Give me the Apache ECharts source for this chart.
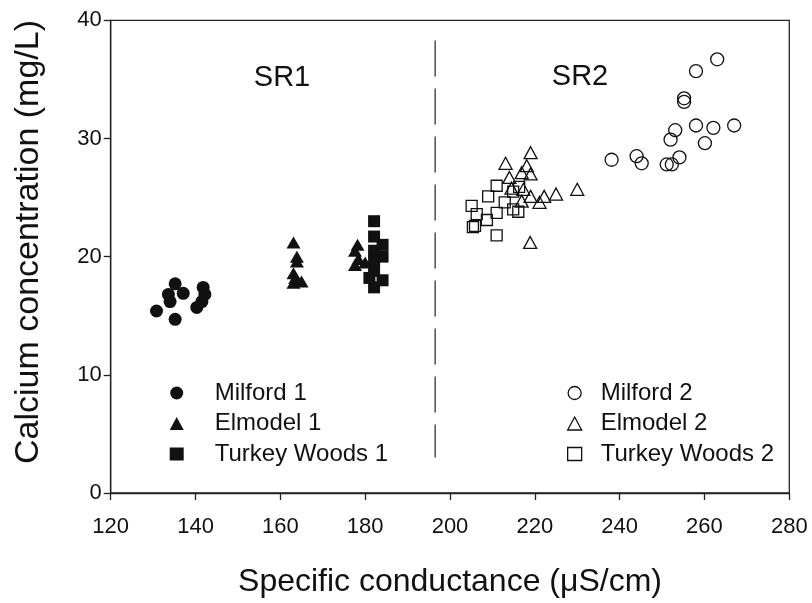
<!DOCTYPE html>
<html>
<head>
<meta charset="utf-8">
<script src="https://cdn.jsdelivr.net/npm/echarts@6/dist/echarts.min.js"></script>
<style>
  html, body { margin: 0; padding: 0; background: #fff; }
  #chart { width: 812px; height: 603px; }
</style>
</head>
<body>
<div id="chart"></div>
<script>
// Specific conductance (µS/cm) vs calcium concentration (mg/L), two sampling rounds
const milford1 = [[135.2,17.7],[137.1,16.9],[133.6,16.8],[134.0,16.2],[130.8,15.4],[135.2,14.7],[141.8,17.4],[142.2,16.8],[141.5,16.2],[140.3,15.7]];
const elmodel1 = [[163.1,21.2],[163.9,20.0],[163.9,19.6],[163.1,18.6],[163.5,18.2],[165.0,17.9],[163.1,17.8],[178.2,21.0],[177.6,20.5],[178.4,19.8],[177.6,19.3],[180.0,19.5]];
const turkeyWoods1 = [[182.1,23.0],[182.1,21.7],[184.1,21.0],[182.1,20.5],[184.1,20.0],[182.1,19.6],[182.1,18.8],[184.1,18.0],[181.0,18.2],[182.1,17.4]];
const milford2 = [[263.0,36.7],[258.0,35.7],[255.2,33.4],[255.2,33.1],[253.1,30.7],[252.0,29.9],[258.0,31.1],[262.1,30.9],[267.0,31.1],[260.1,29.6],[254.1,28.4],[238.1,28.2],[244.0,28.5],[245.2,27.9],[251.1,27.8],[252.3,27.8]];
const elmodel2 = [[219.0,28.8],[213.1,27.9],[218.1,27.7],[216.9,27.1],[219.0,27.0],[214.0,26.7],[230.0,25.7],[225.0,25.3],[222.2,25.1],[219.0,25.1],[221.1,24.6],[216.9,24.7],[218.9,21.2],[214.5,25.8],[217.3,25.7]];
const turkeyWoods2 = [[211.0,26.0],[209.0,25.1],[214.9,25.5],[212.9,24.6],[216.1,23.8],[214.9,24.0],[211.0,23.7],[205.1,24.3],[206.3,23.6],[208.7,23.1],[205.4,22.5],[205.9,22.6],[211.0,21.8],[216.3,25.9]];

// round divider (x = 196.5) and its vertical extent
const dividerLine = [[196.5, 38.3], [196.5, 3.0]];

const xTicks = [120, 140, 160, 180, 200, 220, 240, 260, 280];
const yTicks = [0, 10, 20, 30, 40];
const roundLabels = ['SR1', 'SR2'];

const INK = '#111';
const AXIS = '#222';
const FONT = '"Liberation Sans", Arial, Helvetica, sans-serif';

function filled(name, symbol, size, data) {
  return {
    name, type: 'scatter', data, symbol, symbolSize: size,
    itemStyle: { color: INK, opacity: 1 },
    emphasis: { disabled: true }, z: 3
  };
}
function hollow(name, symbol, size, data) {
  return {
    name, type: 'scatter', data, symbol, symbolSize: size,
    itemStyle: { color: 'rgba(255,255,255,0)', borderColor: INK, borderWidth: 1.3, opacity: 1 },
    emphasis: { disabled: true }, z: 3
  };
}

const legendText = { fontSize: 24, lineHeight: 24, color: INK, fontFamily: FONT };

const chart = echarts.init(document.getElementById('chart'), null, { renderer: 'canvas' });

chart.setOption({
  animation: false,
  backgroundColor: '#fff',
  textStyle: { fontFamily: FONT },
  grid: {
    left: 110.7, right: 22.7, top: 20.3, bottom: 109,
    show: true, borderColor: AXIS, borderWidth: 1.3, backgroundColor: 'transparent'
  },
  xAxis: {
    type: 'value',
    min: xTicks[0], max: xTicks[xTicks.length - 1], interval: 20,
    name: 'Specific conductance (\u03bcS/cm)',
    nameLocation: 'middle', nameGap: 73,
    nameTextStyle: { fontSize: 32, color: INK, fontFamily: FONT },
    axisLine: { show: true, onZero: false, lineStyle: { color: AXIS, width: 1.3 } },
    axisTick: { show: true, inside: false, length: 7, lineStyle: { color: AXIS, width: 1.3 } },
    axisLabel: { fontSize: 22, color: INK, margin: 23, fontFamily: FONT },
    splitLine: { show: false }
  },
  yAxis: {
    type: 'value',
    min: yTicks[0], max: yTicks[yTicks.length - 1], interval: 10,
    axisLine: { show: true, onZero: false, lineStyle: { color: AXIS, width: 1.3 } },
    axisTick: { show: true, inside: false, length: 7, lineStyle: { color: AXIS, width: 1.3 } },
    axisLabel: { fontSize: 22, color: INK, margin: 9, fontFamily: FONT },
    splitLine: { show: false }
  },
  legend: [
    {
      data: ['Milford 1', 'Elmodel 1', 'Turkey Woods 1'],
      orient: 'vertical', left: 169.7, top: 381, padding: 0,
      itemWidth: 14, itemHeight: 13, itemGap: 6.5,
      selectedMode: false,
      textStyle: Object.assign({ padding: [0, 0, 0, 26] }, legendText)
    },
    {
      data: ['Milford 2', 'Elmodel 2', 'Turkey Woods 2'],
      orient: 'vertical', left: 567, top: 381, padding: 0,
      itemWidth: 14, itemHeight: 13, itemGap: 6.5,
      selectedMode: false,
      itemStyle: { borderWidth: 1.3 },
      textStyle: Object.assign({ padding: [0, 0, 0, 14] }, legendText)
    }
  ],
  graphic: [
    {
      type: 'text', x: 29, y: 242,
      rotation: Math.PI / 2,
      style: {
        text: 'Calcium concentration (mg/L)',
        font: '34px ' + FONT, fill: INK,
        align: 'center', verticalAlign: 'middle'
      }
    },
    {
      type: 'text', x: 282, y: 78,
      style: { text: roundLabels[0], font: '29px ' + FONT, fill: INK, align: 'center', verticalAlign: 'middle' }
    },
    {
      type: 'text', x: 580, y: 77,
      style: { text: roundLabels[1], font: '29px ' + FONT, fill: INK, align: 'center', verticalAlign: 'middle' }
    }
  ],
  series: [
    {
      name: 'divider', type: 'line', data: dividerLine,
      symbol: 'none', silent: true, z: 1,
      lineStyle: { color: '#333', width: 1.3, type: [36, 12] }
    },
    filled('Milford 1', 'circle', 13, milford1),
    filled('Elmodel 1', 'triangle', [14, 12], elmodel1),
    filled('Turkey Woods 1', 'rect', 12, turkeyWoods1),
    hollow('Milford 2', 'circle', 13, milford2),
    hollow('Elmodel 2', 'triangle', [13, 12], elmodel2),
    hollow('Turkey Woods 2', 'rect', 11, turkeyWoods2)
  ]
});
</script>
</body>
</html>
